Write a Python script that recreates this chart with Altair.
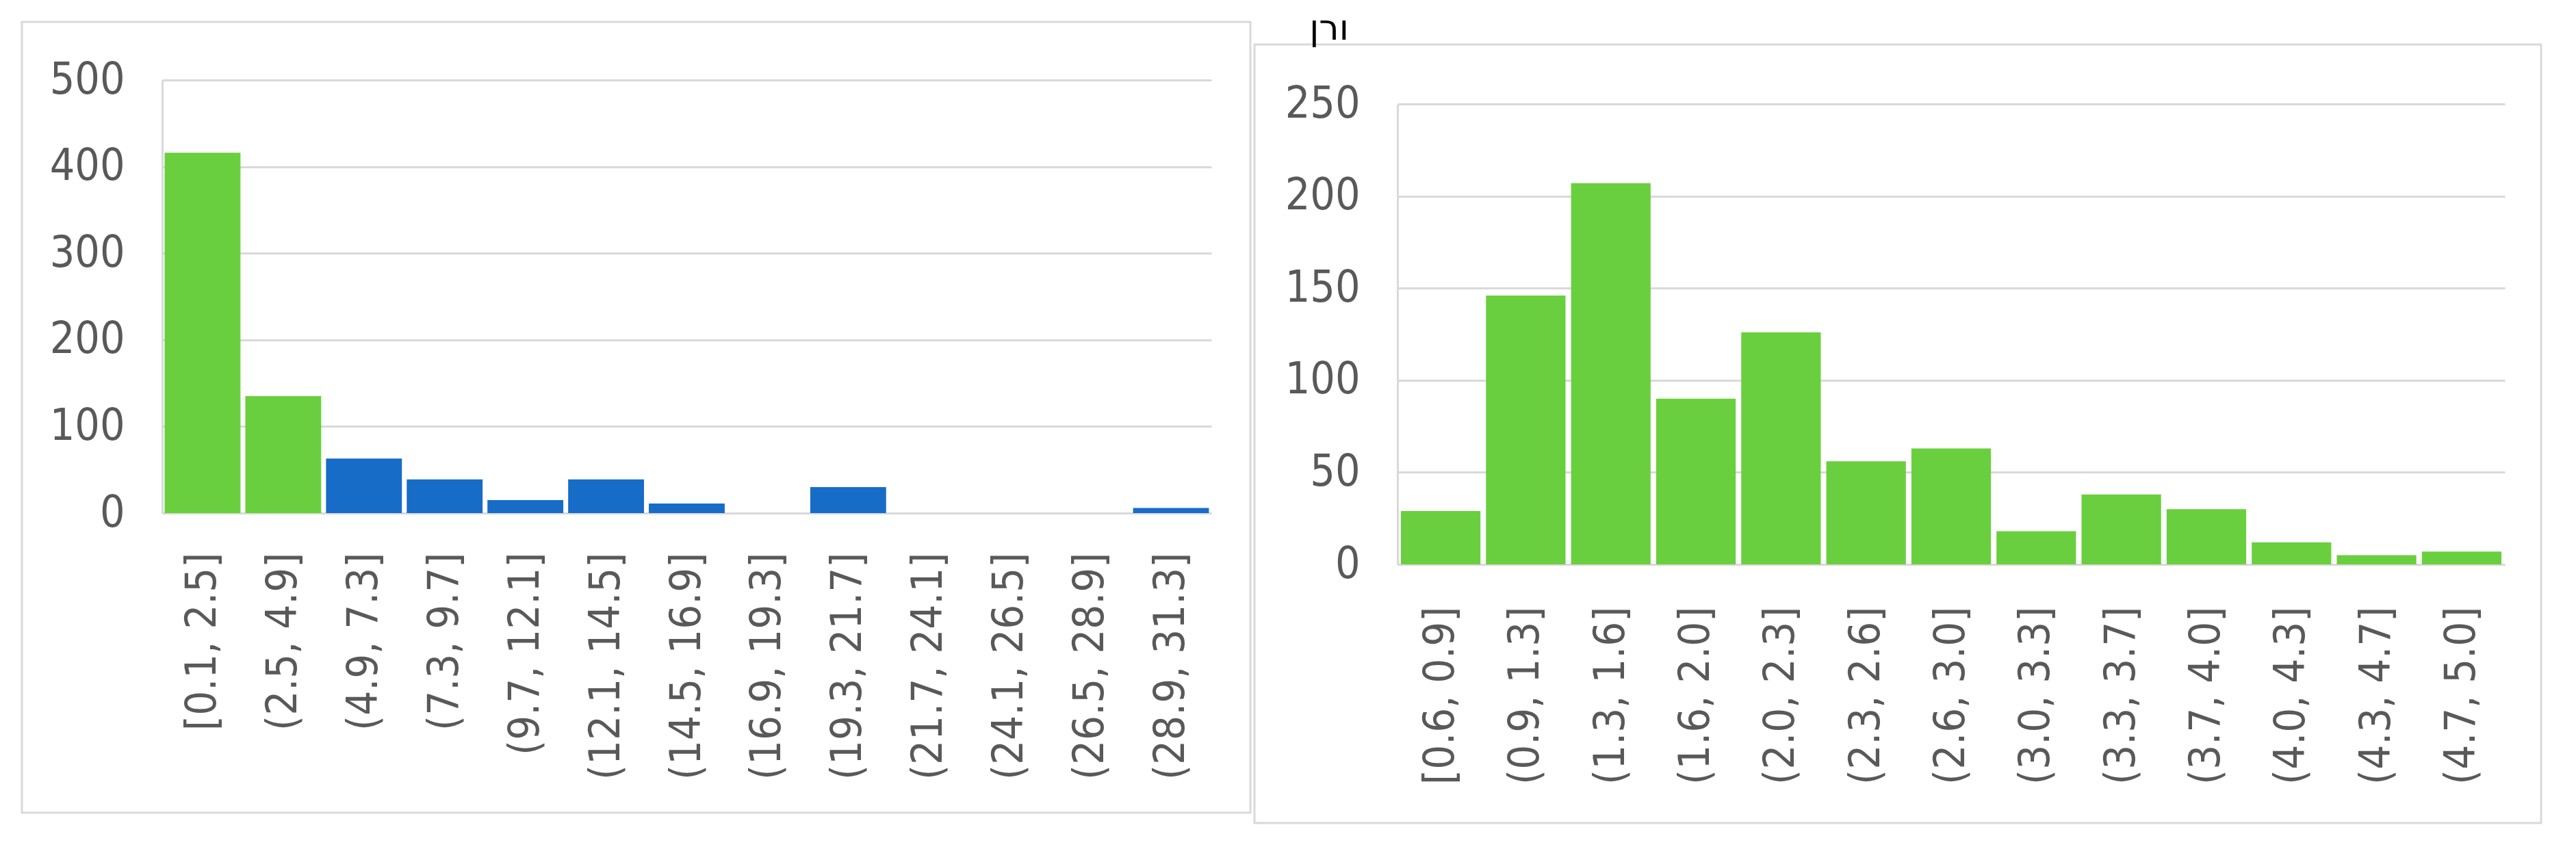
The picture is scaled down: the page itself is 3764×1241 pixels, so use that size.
import altair as alt
import pandas as pd

# ---- data ----
left_bins = ["[0.1, 2.5]", "(2.5, 4.9]", "(4.9, 7.3]", "(7.3, 9.7]", "(9.7, 12.1]",
             "(12.1, 14.5]", "(14.5, 16.9]", "(16.9, 19.3]", "(19.3, 21.7]",
             "(21.7, 24.1]", "(24.1, 26.5]", "(26.5, 28.9]", "(28.9, 31.3]"]
left_counts = [416, 135, 63, 39, 15, 39, 11, 0, 30, 0, 0, 0, 6]
left_series = ["A", "A", "B", "B", "B", "B", "B", "B", "B", "B", "B", "B", "B"]
left_ticks = [0, 100, 200, 300, 400, 500]

right_bins = ["[0.6, 0.9]", "(0.9, 1.3]", "(1.3, 1.6]", "(1.6, 2.0]", "(2.0, 2.3]",
              "(2.3, 2.6]", "(2.6, 3.0]", "(3.0, 3.3]", "(3.3, 3.7]", "(3.7, 4.0]",
              "(4.0, 4.3]", "(4.3, 4.7]", "(4.7, 5.0]"]
right_counts = [29, 146, 207, 90, 126, 56, 63, 18, 38, 30, 12, 5, 7]
right_ticks = [0, 50, 100, 150, 200, 250]
right_title = ["ורן"]

# ---- style ----
GREEN = "#6ACF3E"
BLUE = "#176CC8"
GRID = "#d9d9d9"
LABEL = "#595959"
FONT = "DejaVu Sans Condensed, DejaVu Sans"
FS = 64


def x_axis(pad):
    return alt.Axis(title=None, labelAngle=-90, labelFont=FONT, labelFontSize=63,
                    labelColor=LABEL, labelPadding=pad, ticks=False, tickSize=0,
                    domainColor=GRID, domainWidth=3, grid=False, labelOverlap=False,
                    labelLimit=2000)


def y_axis(vals):
    return alt.Axis(title=None, values=vals, labelFont=FONT, labelFontSize=FS,
                    labelColor=LABEL, labelPadding=55, ticks=False, tickSize=0,
                    domainColor=GRID, domainWidth=3, gridColor=GRID, gridWidth=3,
                    labelLimit=2000)


one = pd.DataFrame({"k": [0]})


def frame(x1, x2, y1, y2):
    return alt.Chart(one).mark_rect(fillOpacity=0, stroke=GRID, strokeWidth=3).encode(
        x=alt.value(x1), x2=alt.value(x2), y=alt.value(y1), y2=alt.value(y2))


def bounds(x1, x2, y1, y2):
    return alt.Chart(one).mark_rect(fillOpacity=0, strokeOpacity=0).encode(
        x=alt.value(x1), x2=alt.value(x2), y=alt.value(y1), y2=alt.value(y2))


# ---- left panel ----
LW, LH = 1533, 633
left_df = pd.DataFrame({"bin": left_bins, "count": left_counts, "series": left_series})
left_bars = alt.Chart(left_df).mark_bar().encode(
    x=alt.X("bin:N", sort=left_bins, axis=x_axis(57),
            scale=alt.Scale(paddingInner=0.06, paddingOuter=0.03)),
    y=alt.Y("count:Q", axis=y_axis(left_ticks),
            scale=alt.Scale(domain=[0, 500], nice=False)),
    color=alt.Color("series:N", scale=alt.Scale(domain=["A", "B"], range=[GREEN, BLUE]),
                    legend=None),
)
left = alt.layer(
    bounds(-229, 1593, -109, 1080),
    frame(-205, 1590, -85, 1071),
    left_bars,
).properties(width=LW, height=LH)

# ---- right panel (shares the row origin; its plot starts lower) ----
RW, RH = 1618, 708
right_df = pd.DataFrame({"bin": right_bins, "count": right_counts})
right_bars = alt.Chart(right_df).mark_bar(color=GREEN).encode(
    x=alt.X("bin:N", sort=right_bins, axis=x_axis(61),
            scale=alt.Scale(paddingInner=0.065, paddingOuter=0.04)),
    y=alt.Y("count:Q", axis=y_axis(right_ticks),
            scale=alt.Scale(domain=[0, 250], nice=False, range=[708, 35])),
)
title = alt.Chart(pd.DataFrame({"t": right_title})).mark_text(
    font="DejaVu Sans", fontSize=52, color="black", align="center", baseline="top"
).encode(text="t:N", x=alt.value(-100), y=alt.value(-100))

right = alt.layer(
    bounds(-212, 1700, -109, 1090),
    frame(-209, 1671, -52, 1086),
    title,
    right_bars,
).properties(width=RW, height=RH)

chart = alt.hconcat(left, right, spacing=0).properties(padding=0).configure_view(
    strokeWidth=0)

chart.save("out.html", embed_options={"renderer": "svg", "actions": False})
